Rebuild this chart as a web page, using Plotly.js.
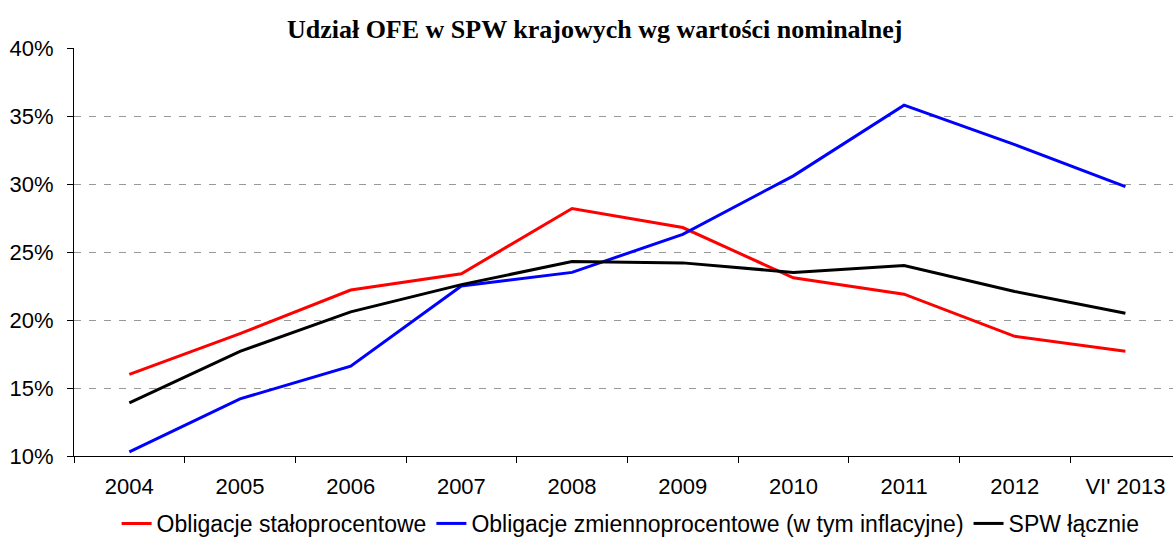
<!DOCTYPE html>
<html><head><meta charset="utf-8">
<script src="https://cdn.plot.ly/plotly-3.0.1.min.js"></script>
<style>html,body{margin:0;padding:0;background:#fff}#chart{width:1173px;height:538px}</style>
</head><body><div id="chart"></div>
<script>
const categories = ["2004","2005","2006","2007","2008","2009","2010","2011","2012","VI' 2013"];
const stalo = [16.0, 19.0, 22.2, 23.4, 28.2, 26.8, 23.1, 21.9, 18.8, 17.7];
const zmienno = [10.3, 14.2, 16.6, 22.5, 23.5, 26.3, 30.6, 35.8, 32.9, 29.8];
const lacznie = [13.9, 17.7, 20.6, 22.6, 24.3, 24.2, 23.5, 24.0, 22.1, 20.5];
const seriesNames = ["Obligacje stałoprocentowe","Obligacje zmiennoprocentowe (w tym inflacyjne)","SPW łącznie"];
const titleText = "Udział OFE w SPW krajowych wg wartości nominalnej";

const mk = (y, name, color) => ({
  x: categories, y: y.map(v => v/100), name: name, type: "scatter", mode: "lines",
  line: {color: color, width: 3}
});
const data = [mk(stalo, seriesNames[0], "#ff0000"), mk(zmienno, seriesNames[1], "#0000ff"), mk(lacznie, seriesNames[2], "#000000")];

const layout = {
  width: 1173, height: 538,
  margin: {l: 74, r: 0, t: 48, b: 82, autoexpand: false},
  paper_bgcolor: "#fff", plot_bgcolor: "#fff",
  title: {text: titleText, x: 0.507, xanchor: "center", y: 0.947, yanchor: "middle",
    font: {family: "Liberation Serif, Times New Roman, serif", size: 26, color: "#000", weight: "bold"}},
  font: {family: "Liberation Sans, Arial, sans-serif", size: 22, color: "#000"},
  xaxis: {type: "category", range: [-0.5, 9.43], showline: true, linecolor: "#000", linewidth: 1,
    ticks: "outside", ticklen: 6, tickcolor: "#000", tickson: "boundaries", showgrid: false, automargin: false,
    ticklabelstandoff: 11, tickfont: {size: 22}, fixedrange: true, zeroline: false},
  yaxis: {range: [0.10, 0.40], dtick: 0.05, tickformat: ".0%", showline: true, linecolor: "#000", linewidth: 1,
    ticks: "outside", ticklen: 6, tickcolor: "#000", showgrid: true, gridcolor: "#999999", automargin: false,
    griddash: "7px,8px", gridwidth: 1, zeroline: false, ticklabelstandoff: 9, tickfont: {size: 22}},
  legend: {orientation: "h", x: 0.5376, xanchor: "center", xref: "container", y: 0.027, yref: "container", yanchor: "middle",
    font: {size: 23}, itemwidth: 30, tracegroupgap: 0, bgcolor: "rgba(0,0,0,0)"},
  showlegend: true
};
Plotly.newPlot("chart", data, layout, {displayModeBar: false, staticPlot: true});
</script></body></html>
